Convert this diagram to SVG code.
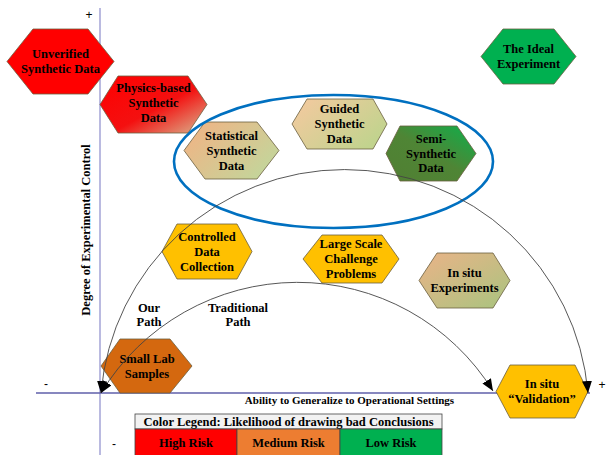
<svg xmlns="http://www.w3.org/2000/svg" width="610" height="455" viewBox="0 0 610 455">
<style>
.hex{stroke:#6b6040;stroke-width:0.8}
.t{font-family:"Liberation Serif","Times New Roman",serif;font-weight:bold;font-size:12.5px;fill:#000;text-anchor:middle}
.ax{font-family:"Liberation Serif","Times New Roman",serif;font-weight:bold;fill:#000;text-anchor:middle}
.sg{font-family:"Liberation Sans",Arial,sans-serif;font-size:12px;fill:#000;text-anchor:middle}
.arc{fill:none;stroke:#444;stroke-width:0.9;marker-start:url(#ah);marker-end:url(#ah)}
</style>
<defs>
<marker id="ah" markerUnits="userSpaceOnUse" markerWidth="12" markerHeight="10" refX="12" refY="5" orient="auto-start-reverse">
<path d="M0,0 L12,5 L0,10 z" fill="#000"/>
</marker>
<linearGradient id="gPhys" x1="0" y1="0" x2="1" y2="1">
<stop offset="0" stop-color="#FF0000"/><stop offset="0.55" stop-color="#F41010"/><stop offset="1" stop-color="#D9B690"/>
</linearGradient>
<linearGradient id="gTan" x1="0" y1="0" x2="1" y2="0.6">
<stop offset="0" stop-color="#F4B183"/><stop offset="1" stop-color="#C5D49A"/>
</linearGradient>
<linearGradient id="gGuid" x1="0" y1="0" x2="1" y2="0.6">
<stop offset="0" stop-color="#F6C9A0"/><stop offset="1" stop-color="#C2D38E"/>
</linearGradient>
<linearGradient id="gSemi" x1="0" y1="1" x2="1" y2="0">
<stop offset="0" stop-color="#517F33"/><stop offset="0.5" stop-color="#4F8535"/><stop offset="1" stop-color="#0DB04B"/>
</linearGradient>
<linearGradient id="gExp" x1="0" y1="0" x2="1" y2="1">
<stop offset="0" stop-color="#EAB388"/><stop offset="1" stop-color="#A9C47F"/>
</linearGradient>
</defs>

<g id="axes">
<line x1="100" y1="8" x2="100" y2="455" stroke="#A3A3D6" stroke-width="1.5"/>
<line x1="36" y1="393" x2="590" y2="393" stroke="#5F5FAA" stroke-width="1.5"/>
<text class="sg" x="89" y="19">+</text>
<text class="sg" x="46" y="388">-</text>
<text class="sg" x="602" y="389">+</text>
<text class="sg" x="114" y="448">-</text>
<text class="ax" x="349.5" y="404" font-size="11px">Ability to Generalize to Operational Settings</text>
<text class="ax" font-size="12.5px" transform="translate(90,230) rotate(-90)">Degree of Experimental Control</text>
</g>

<g id="n-unverified">
<polygon class="hex" points="7,61.5 33,29 88,29 114,61.5 88,94 33,94" fill="#FF0000"/>
<text class="t" x="60.5" y="58">Unverified</text>
<text class="t" x="60.5" y="73">Synthetic Data</text>
</g>
<g id="n-physics">
<polygon class="hex" points="100,104.5 118,76 188,76 207,104.5 188,133 118,133" fill="url(#gPhys)"/>
<text class="t" x="153.5" y="92">Physics-based</text>
<text class="t" x="153.5" y="107">Synthetic</text>
<text class="t" x="153.5" y="122">Data</text>
</g>
<g id="n-statistical">
<polygon class="hex" points="184,150.5 205,122 257,122 279,150.5 257,179 205,179" fill="url(#gTan)"/>
<text class="t" x="231.5" y="140">Statistical</text>
<text class="t" x="231.5" y="155">Synthetic</text>
<text class="t" x="231.5" y="170">Data</text>
</g>
<g id="n-guided">
<polygon class="hex" points="292,124 307,99 373,99 387,124 373,149 307,149" fill="url(#gGuid)"/>
<text class="t" x="339.5" y="113">Guided</text>
<text class="t" x="339.5" y="128">Synthetic</text>
<text class="t" x="339.5" y="143">Data</text>
</g>
<g id="n-semi">
<polygon class="hex" points="386,153.5 400,126 457,126 476,153.5 457,181 400,181" fill="url(#gSemi)"/>
<text class="t" x="431" y="143">Semi-</text>
<text class="t" x="431" y="157.5">Synthetic</text>
<text class="t" x="431" y="172">Data</text>
</g>
<g id="n-ideal">
<polygon class="hex" points="481,56.5 503,29 554,29 576,56.5 554,84 503,84" fill="#00B050"/>
<text class="t" x="528.5" y="53">The Ideal</text>
<text class="t" x="528.5" y="68">Experiment</text>
</g>
<g id="n-controlled">
<polygon class="hex" points="162,251.5 177,224 237,224 252,251.5 237,279 177,279" fill="#FFC000"/>
<text class="t" x="207" y="241">Controlled</text>
<text class="t" x="207" y="256">Data</text>
<text class="t" x="207" y="271">Collection</text>
</g>
<g id="n-large">
<polygon class="hex" points="303,259 322,235 382,235 399,259 382,283 322,283" fill="#FFC000"/>
<text class="t" x="351" y="248">Large Scale</text>
<text class="t" x="351" y="263">Challenge</text>
<text class="t" x="351" y="278">Problems</text>
</g>
<g id="n-insitu-exp">
<polygon class="hex" points="419,280.5 437,253 493,253 510,280.5 493,308 437,308" fill="url(#gExp)"/>
<text class="t" x="464.5" y="277">In situ</text>
<text class="t" x="464.5" y="292">Experiments</text>
</g>
<g id="n-smalllab">
<polygon class="hex" points="101,366 120,339 170,339 192,366 170,393 120,393" fill="#D4680F"/>
<text class="t" x="147" y="363">Small Lab</text>
<text class="t" x="147" y="378">Samples</text>
</g>
<g id="n-validation">
<polygon class="hex" points="496,391.5 510,365 575,365 588,391.5 575,418 510,418" fill="#FFC000"/>
<text class="t" x="542" y="388">In situ</text>
<text class="t" x="542" y="403">“Validation”</text>
</g>

<g id="group-ellipse">
<ellipse cx="333.5" cy="161.5" rx="159.5" ry="66.5" fill="none" stroke="#0070C0" stroke-width="2.6"/>
</g>

<g id="connectors">
<path class="arc" d="M101,393 A244.4,244.4 0 0 1 588,393"/>
<path class="arc" d="M101,393 A230,230 0 0 1 493,391"/>
<text class="t" x="149" y="312">Our</text>
<text class="t" x="149" y="326">Path</text>
<text class="t" x="238" y="312">Traditional</text>
<text class="t" x="238" y="326">Path</text>
</g>

<g id="legend">
<rect x="135" y="414" width="307" height="15" fill="#F2F2F2" stroke="#444" stroke-width="0.8"/>
<text class="t" x="288.5" y="425.5">Color Legend: Likelihood of drawing bad Conclusions</text>
<rect x="135" y="429" width="102" height="27" fill="#FF0000" stroke="#444" stroke-width="0.8"/>
<rect x="237" y="429" width="103" height="27" fill="#ED7D31" stroke="#444" stroke-width="0.8"/>
<rect x="340" y="429" width="102" height="27" fill="#00B050" stroke="#444" stroke-width="0.8"/>
<text class="t" x="186" y="447">High Risk</text>
<text class="t" x="288.5" y="447">Medium Risk</text>
<text class="t" x="391" y="447">Low Risk</text>
</g>
</svg>
